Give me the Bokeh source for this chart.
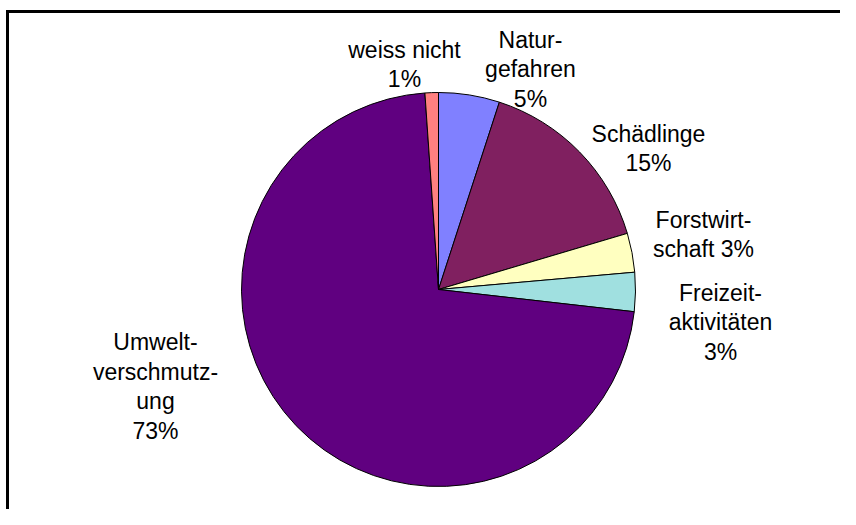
import math
from bokeh.plotting import figure
from bokeh.models import ColumnDataSource, Range1d
from bokeh.core.properties import value
from bokeh.embed import file_html
from bokeh.resources import INLINE

# ---- data (clockwise from 12 o'clock) ----
categories = ["Naturgefahren", "Schädlinge", "Forstwirtschaft",
              "Freizeitaktivitäten", "Umweltverschmutzung", "weiss nicht"]
shares = [5.0, 15.4, 3.2, 3.2, 72.1, 1.1]
pct_labels = ["5%", "15%", "3%", "3%", "73%", "1%"]
label_names = ["Natur-\ngefahren\n", "Schädlinge\n", "Forstwirt-\nschaft ",
               "Freizeit-\naktivitäten\n", "Umwelt-\nverschmutz-\nung\n", "weiss nicht\n"]
colors = ["#8080FF", "#802060", "#FFFFC0", "#A0E0E0", "#600080", "#FF8080"]

# ---- layout (pixels, pie centre at origin) ----
W, H = 840, 509
cx_px, cy_px = 438, 289          # centre inside the canvas
R = 197
label_x = [92, 210, 265, 282, -283, -34]
label_y = [220, 141, 55, -33, -97, 225]

total = sum(shares)
starts, ends = [], []
acc = 0.0
for s in shares:
    starts.append(math.radians(90 - acc / total * 360))
    acc += s
    ends.append(math.radians(90 - acc / total * 360))

src = ColumnDataSource(dict(cat=categories, start=starts, end=ends, color=colors))

p = figure(width=W, height=H, output_backend="svg", toolbar_location=None,
           x_range=Range1d(-cx_px, W - cx_px), y_range=Range1d(-(H - cy_px), cy_px),
           min_border=0, min_border_left=0, min_border_right=0,
           min_border_top=0, min_border_bottom=0)
p.axis.visible = False
p.grid.visible = False
p.outline_line_color = None
p.background_fill_color = "white"
p.border_fill_color = "white"

p.wedge(x=0, y=0, radius=R, start_angle="start", end_angle="end",
        direction="clock", fill_color="color", line_color="black",
        line_width=1, source=src)

lsrc = ColumnDataSource(dict(x=label_x, y=label_y,
                             t=[n + q for n, q in zip(label_names, pct_labels)]))
p.text(x="x", y="y", text="t", source=lsrc, text_align="center",
       text_baseline="middle", text_font=value("Liberation Sans"),
       text_font_size="23px", text_color="black", text_line_height=1.14)

# chart-area frame (top and left edges visible, corner at the top-left)
fx0 = -cx_px + 7
fy0 = cy_px - 11
p.segment(x0=[fx0 - 1.5, fx0], y0=[fy0, fy0 + 1.5],
          x1=[W - cx_px + 10, fx0], y1=[fy0, -(H - cy_px) - 10],
          line_color="black", line_width=3)

open("out.html", "w").write(file_html(p, INLINE))
